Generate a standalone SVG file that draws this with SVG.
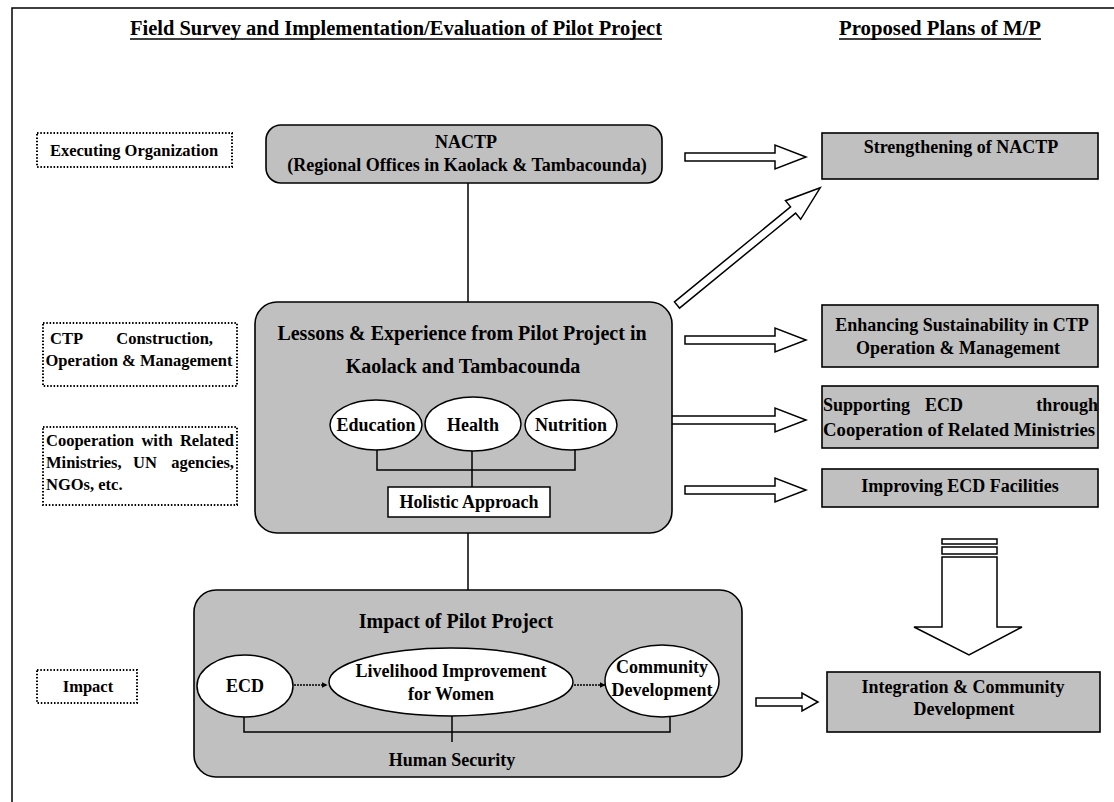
<svg xmlns="http://www.w3.org/2000/svg" width="1114" height="802" viewBox="0 0 1114 802">
<style>
.t{font-family:"Liberation Serif","Times New Roman",serif;font-weight:bold;fill:#000}
.s18{font-size:18px}.s16{font-size:16.5px}.s20{font-size:20px}
.c{text-anchor:middle}.e{text-anchor:end}
.grey{fill:#c0c0c0;stroke:#000;stroke-width:1.6}
.dot{fill:#fff;stroke:#000;stroke-width:2;stroke-dasharray:1.5 1.8}
.wh{fill:#fff;stroke:#000;stroke-width:1.5}
.ln{fill:none;stroke:#000;stroke-width:1.5}
.ha{fill:#fff;stroke:#000;stroke-width:1.5;stroke-linejoin:miter}
</style>
<defs>
<marker id="ah" viewBox="0 0 10 10" refX="9" refY="5" markerWidth="6" markerHeight="6" orient="auto" markerUnits="userSpaceOnUse">
<path d="M0,0 L10,5 L0,10 z" fill="#000"/>
</marker>
</defs>
<rect width="1114" height="802" fill="#fff"/>
<g id="frame">
<path class="ln" d="M12,802 L12,8 L1114,8"/>
</g>
<g id="titles">
<text class="t s20 c" x="396" y="35" textLength="532" lengthAdjust="spacingAndGlyphs">Field Survey and Implementation/Evaluation of Pilot Project</text>
<line class="ln" x1="130" y1="39" x2="662" y2="39"/>
<text class="t s20 c" x="940" y="35" textLength="202" lengthAdjust="spacingAndGlyphs">Proposed Plans of M/P</text>
<line class="ln" x1="839" y1="39" x2="1041" y2="39"/>
</g>
<g id="label-executing">
<rect class="dot" x="37" y="133" width="195" height="34"/>
<text class="t s16 c" x="134" y="156">Executing Organization</text>
</g>
<g id="label-ctp">
<rect class="dot" x="43" y="323" width="194" height="63"/>
<text class="t s16" x="50" y="344">CTP</text>
<text class="t s16 e" x="213" y="344">Construction,</text>
<text class="t s16 c" x="139" y="366">Operation &amp; Management</text>
</g>
<g id="label-cooperation">
<rect class="dot" x="43" y="427" width="194" height="78"/>
<text class="t s16" x="46" y="446">Cooperation</text>
<text class="t s16 c" x="157" y="446">with</text>
<text class="t s16 e" x="234" y="446">Related</text>
<text class="t s16" x="46" y="468">Ministries,</text>
<text class="t s16 c" x="145" y="468">UN</text>
<text class="t s16 e" x="234" y="468">agencies,</text>
<text class="t s16" x="46" y="490">NGOs, etc.</text>
</g>
<g id="label-impact">
<rect class="dot" x="37" y="670" width="100" height="33"/>
<text class="t s16 c" x="88" y="692">Impact</text>
</g>
<g id="connectors">
<line class="ln" x1="468" y1="183" x2="468" y2="302"/>
<line class="ln" x1="468" y1="533" x2="468" y2="590"/>
<path class="ha" d="M685,153 L775,153 L775,145 L806,157 L775,169 L775,161 L685,161 Z"/>
<path class="ha" transform="translate(677,305) rotate(-39.3)" d="M0,-4 L150,-4 L150,-12 L185,0 L150,12 L150,4 L0,4 Z"/>
<path class="ha" d="M685,336 L775,336 L775,328 L806,340 L775,352 L775,344 L685,344 Z"/>
<path class="ha" d="M625,416 L775,416 L775,408 L806,420 L775,432 L775,424 L625,424 Z"/>
<path class="ha" d="M685,486 L775,486 L775,478 L806,490 L775,502 L775,494 L685,494 Z"/>
<path class="ha" d="M756,698 L802,698 L802,693 L818,702 L802,711 L802,706 L756,706 Z"/>
<rect class="ha" x="942" y="539" width="55" height="5"/>
<rect class="ha" x="942" y="547" width="55" height="7"/>
<path class="ha" d="M942,557 L997,557 L997,627 L1022,627 L969,655 L914,627 L942,627 Z"/>
</g>
<g id="node-nactp">
<rect class="grey" x="266" y="125" width="396" height="58" rx="15"/>
<text class="t s18 c" x="466" y="148">NACTP</text>
<text class="t s18 c" x="467" y="171">(Regional Offices in Kaolack &amp; Tambacounda)</text>
</g>
<g id="node-lessons">
<rect class="grey" x="255" y="302" width="417" height="231" rx="22"/>
<text class="t s20 c" x="462" y="340">Lessons &amp; Experience from Pilot Project in</text>
<text class="t s20 c" x="463" y="373">Kaolack and Tambacounda</text>
<path class="ln" d="M377,449 L377,470 L575,470 L575,449"/>
<line class="ln" x1="472" y1="450" x2="472" y2="487"/>
<ellipse class="wh" cx="376" cy="425" rx="46" ry="25"/>
<ellipse class="wh" cx="473" cy="424" rx="48" ry="27"/>
<ellipse class="wh" cx="571" cy="425" rx="46" ry="25"/>
<text class="t s18 c" x="376" y="431">Education</text>
<text class="t s18 c" x="473" y="431">Health</text>
<text class="t s18 c" x="571" y="431">Nutrition</text>
<rect class="wh" x="388" y="487" width="162" height="30"/>
<text class="t s18 c" x="469" y="508">Holistic Approach</text>
</g>
<g id="node-impact">
<rect class="grey" x="194" y="590" width="548" height="187" rx="22"/>
<text class="t s20 c" x="456" y="628">Impact of Pilot Project</text>
<path class="ln" d="M244,714 L244,732 L670,732 L670,714"/>
<line class="ln" x1="452" y1="714" x2="452" y2="742"/>
<ellipse class="wh" cx="245" cy="686" rx="48" ry="31"/>
<ellipse class="wh" cx="451" cy="682" rx="122" ry="34"/>
<ellipse class="wh" cx="662" cy="681" rx="57" ry="36"/>
<line class="ln" x1="294" y1="685" x2="327" y2="685" stroke-dasharray="2 1" marker-end="url(#ah)"/>
<line class="ln" x1="574" y1="685" x2="605" y2="685" stroke-dasharray="2 1" marker-end="url(#ah)"/>
<text class="t s18 c" x="245" y="692">ECD</text>
<text class="t s18 c" x="451" y="677">Livelihood Improvement</text>
<text class="t s18 c" x="451" y="700">for Women</text>
<text class="t s18 c" x="662" y="673">Community</text>
<text class="t s18 c" x="662" y="696">Development</text>
<text class="t s18 c" x="452" y="766">Human Security</text>
</g>
<g id="node-strengthening">
<rect class="grey" x="822" y="133" width="276" height="46"/>
<text class="t s18 c" x="961" y="153">Strengthening of NACTP</text>
</g>
<g id="node-enhancing">
<rect class="grey" x="822" y="305" width="276" height="62"/>
<text class="t s18 c" x="962" y="331">Enhancing Sustainability in CTP</text>
<text class="t s18 c" x="958" y="354">Operation &amp; Management</text>
</g>
<g id="node-supporting">
<rect class="grey" x="822" y="386" width="276" height="62"/>
<text class="t s18" x="823" y="411">Supporting</text>
<text class="t s18 c" x="944" y="411">ECD</text>
<text class="t s18 e" x="1098" y="411">through</text>
<text class="t s18 c" x="959" y="436" textLength="272" lengthAdjust="spacingAndGlyphs">Cooperation of Related Ministries</text>
</g>
<g id="node-improving">
<rect class="grey" x="822" y="469" width="276" height="38"/>
<text class="t s18 c" x="960" y="492">Improving ECD Facilities</text>
</g>
<g id="node-integration">
<rect class="grey" x="827" y="672" width="273" height="60"/>
<text class="t s18 c" x="963" y="693">Integration &amp; Community</text>
<text class="t s18 c" x="964" y="715">Development</text>
</g>
</svg>
